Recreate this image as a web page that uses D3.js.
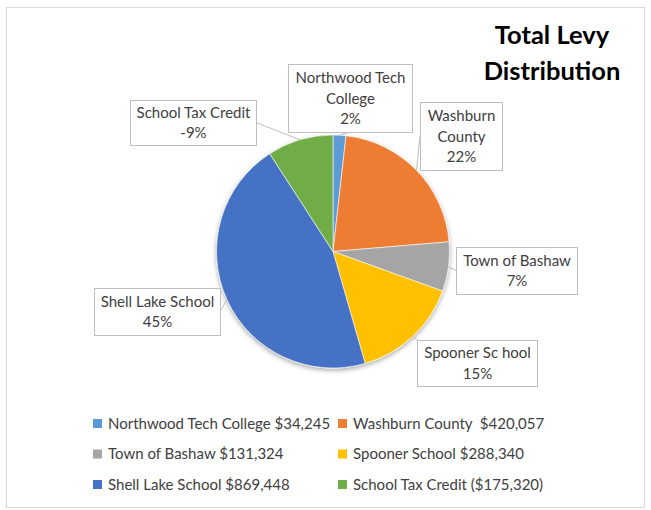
<!DOCTYPE html>
<html><head><meta charset="utf-8">
<script src="https://cdn.jsdelivr.net/npm/d3@7/dist/d3.min.js"></script>
<style>
html,body{margin:0;padding:0;background:#fff;}
svg text{font-family:Lato,"Open Sans",sans-serif;}
</style></head>
<body>
<svg id="chart" width="651" height="510"></svg>
<script>
// ---- data ----
const categories = ["Northwood Tech College","Washburn County","Town of Bashaw","Spooner School","Shell Lake School","School Tax Credit"];
const values = [34245, 420057, 131324, 288340, 869448, -175320];
const colors = ["#5B9BD5","#ED7D31","#A5A5A5","#FFC000","#4472C4","#70AD47"];
const labelLines = [["Northwood Tech","College"],["Washburn","County"],["Town of Bashaw"],["Spooner Sc hool"],["Shell Lake School"],["School Tax Credit"]];
const legendLabels = ["Northwood Tech College $34,245","Washburn County  $420,057","Town of Bashaw $131,324","Spooner School $288,340","Shell Lake School $869,448","School Tax Credit ($175,320)"];
const titleLines = ["Total Levy","Distribution"];

// ---- layout ----
const W = 651, H = 510;
const cx = 333, cy = 251.5, R = 116.5;
const labelBoxes = [
  {x:288,y:64,w:124,h:68,side:"bottom"},
  {x:420,y:102,w:82,h:68,side:"left"},
  {x:456,y:247,w:121,h:47,side:"left"},
  {x:417,y:340,w:120,h:46,side:"top"},
  {x:94,y:288,w:126,h:47,side:"right"},
  {x:130,y:100,w:126,h:45,side:"right"}
];
const legendCols = [93, 338], legendRows = [428.5, 459, 489.5];

const svg = d3.select("#chart");
svg.append("rect").attr("x",6.5).attr("y",7.5).attr("width",638).attr("height",500)
  .attr("fill","#fff").attr("stroke","#d9d9d9").attr("stroke-width",1);

// title
svg.append("g").selectAll("text").data(titleLines).join("text")
  .attr("x",552).attr("y",(d,i)=>44+i*36)
  .attr("text-anchor","middle").attr("font-weight","bold").attr("font-size",25.5)
  .attr("fill","#000").text(d=>d);

// shadow filter
const defs = svg.append("defs");
const f = defs.append("filter").attr("id","sh").attr("x","-20%").attr("y","-20%").attr("width","140%").attr("height","140%");
f.append("feGaussianBlur").attr("in","SourceAlpha").attr("stdDeviation",2.5);
f.append("feOffset").attr("dx",0).attr("dy",1.5).attr("result","o");
f.append("feComponentTransfer").append("feFuncA").attr("type","linear").attr("slope",0.35);
const m = f.append("feMerge"); m.append("feMergeNode"); m.append("feMergeNode").attr("in","SourceGraphic");

const pie = d3.pie().sort(null).value(d=>Math.abs(d));
const arcs = pie(values);
const arc = d3.arc().innerRadius(0).outerRadius(R);
const total = d3.sum(values, d=>Math.abs(d));

const g = svg.append("g").attr("transform",`translate(${cx},${cy})`);
g.append("g").attr("filter","url(#sh)").selectAll("path").data(arcs).join("path")
  .attr("d",arc).attr("fill",(d,i)=>colors[i]).attr("stroke","#fff").attr("stroke-width",0.6);

// leader lines + label boxes
const pct = v => Math.round(v/total*100) + "%";
arcs.forEach((a,i)=>{
  const mid = (a.startAngle+a.endAngle)/2;
  const px = cx + R*Math.sin(mid), py = cy - R*Math.cos(mid);
  const b = labelBoxes[i];
  let tx, ty;
  if (b.side==="left"){tx=b.x; ty=b.y+b.h/2;}
  else if (b.side==="right"){tx=b.x+b.w; ty=b.y+b.h/2;}
  else if (b.side==="bottom"){tx=b.x+b.w/2; ty=b.y+b.h;}
  else {tx=b.x; ty=b.y;}
  svg.append("line").attr("x1",px).attr("y1",py).attr("x2",tx).attr("y2",ty)
    .attr("stroke","#bfbfbf").attr("stroke-width",1);
});
const lb = svg.append("g").selectAll("g").data(arcs).join("g");
lb.append("rect").attr("x",(d,i)=>labelBoxes[i].x+0.5).attr("y",(d,i)=>labelBoxes[i].y+0.5)
  .attr("width",(d,i)=>labelBoxes[i].w).attr("height",(d,i)=>labelBoxes[i].h)
  .attr("fill","#fff").attr("stroke","#bfbfbf").attr("stroke-width",1);
lb.each(function(d,i){
  const b = labelBoxes[i];
  const lines = labelLines[i].concat([pct(values[i])]);
  const n = lines.length, lh = 20.5;
  const y0 = b.y + b.h/2 - (n-1)*lh/2 + 5.5;
  d3.select(this).selectAll("text").data(lines).join("text")
    .attr("x", b.x + b.w/2 + 0.5).attr("y",(t,k)=>y0 + k*lh)
    .attr("text-anchor","middle").attr("font-size",15).attr("fill","#404040").text(t=>t);
});

// legend
const lg = svg.append("g").selectAll("g").data(legendLabels).join("g")
  .attr("transform",(d,i)=>`translate(${legendCols[i%2]},${legendRows[Math.floor(i/2)]})`);
lg.append("rect").attr("x",0).attr("y",-9.5).attr("width",9).attr("height",9).attr("fill",(d,i)=>colors[i]);
lg.append("text").attr("x",15).attr("y",0).attr("font-size",15).attr("fill","#404040")
  .style("white-space","pre").text(d=>d);
</script>
</body></html>
